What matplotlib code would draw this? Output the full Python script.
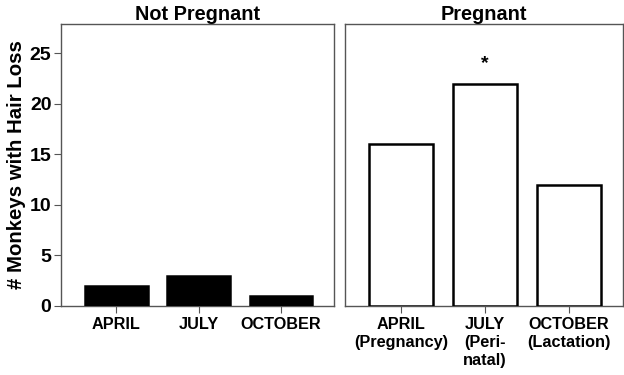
import matplotlib
matplotlib.use("Agg")
import matplotlib.pyplot as plt

plt.rcParams['font.family'] = ['Liberation Sans', 'DejaVu Sans']
plt.rcParams['font.weight'] = 'bold'

months_np = ["APRIL", "JULY", "OCTOBER"]
values_np = [2, 3, 1]
months_p = ["APRIL\n(Pregnancy)", "JULY\n(Peri-\nnatal)", "OCTOBER\n(Lactation)"]
values_p = [16, 22, 12]
panel_titles = ["Not Pregnant", "Pregnant"]
y_ticks = [0, 5, 10, 15, 20, 25]
star_value = 24.0

fig = plt.figure(figsize=(6.24, 3.75), dpi=100)
ax1 = fig.add_axes([0.098, 0.184, 0.437, 0.752])
ax2 = fig.add_axes([0.553, 0.184, 0.445, 0.752])

spine_col = "#555555"
x = [1, 2, 3]
for ax, labels, vals, title, fc in [(ax1, months_np, values_np, panel_titles[0], "black"),
                                     (ax2, months_p, values_p, panel_titles[1], "white")]:
    ax.bar(x, vals, width=0.76, color=fc, edgecolor="black", linewidth=1.8, zorder=3)
    ax.set_xlim(0.33, 3.64)
    ax.set_ylim(0, 27.9)
    ax.set_xticks(x)
    ax.set_xticklabels(labels, fontsize=11.7, fontweight='bold', linespacing=1.25)
    ax.set_title(title, fontsize=14.3, fontweight='bold', pad=3)
    for s in ax.spines.values():
        s.set_color(spine_col)
        s.set_linewidth(1.0)
    ax.tick_params(axis='x', length=5, color=spine_col, pad=3)
    ax.tick_params(axis='y', length=5, color=spine_col, labelsize=14, pad=2)

ax1.set_yticks(y_ticks)
ax1.set_yticklabels([str(t) for t in y_ticks], fontweight='bold')
ax1.set_ylabel("# Monkeys with Hair Loss", fontsize=14.7, fontweight='bold', labelpad=3)
ax2.set_yticks([])

ax2.text(2, star_value, "*", ha='center', va='center', fontsize=14, fontweight='bold')

fig.savefig("out.png", dpi=100)
